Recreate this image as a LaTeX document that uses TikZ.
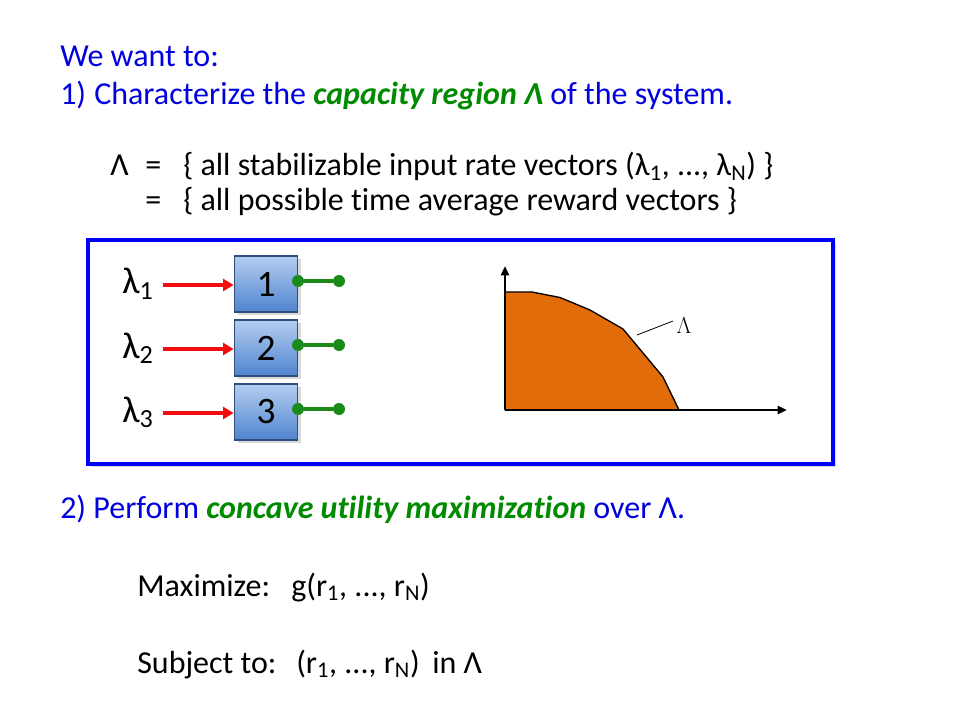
\documentclass[tikz,border=0pt]{standalone}
\usepackage{fontspec}
\setmainfont[Ligatures={NoCommon}]{Carlito}
\usetikzlibrary{arrows.meta}
\definecolor{txtblue}{HTML}{0000E0}
\definecolor{txtgreen}{HTML}{008A00}
\definecolor{boxblue}{HTML}{0000FF}
\definecolor{regorange}{HTML}{E36C0A}
\definecolor{qtop}{HTML}{B4CDF0}
\definecolor{qbot}{HTML}{4F84CF}
\definecolor{qedge}{HTML}{2F4F7F}
\definecolor{arrred}{HTML}{F01010}
\definecolor{lnkgreen}{HTML}{1A8A1A}
\tikzset{
  txt/.style={anchor=base west, inner sep=0pt, font=\fontsize{24}{28}\selectfont},
  lam/.style={anchor=base west, inner sep=0pt, font=\fontsize{28}{30}\selectfont},
  queue/.style={draw=qedge, line width=1pt, top color=qtop, bottom color=qbot, minimum width=47.5pt, minimum height=42pt, inner sep=0pt, font=\fontsize{28}{30}\selectfont},
  inarrow/.style={draw=arrred, line width=2.4pt, -{Triangle[length=8pt,width=9pt]}},
  outlink/.style={draw=lnkgreen, line width=3pt},
  dot/.style={circle, fill=lnkgreen, inner sep=0pt, minimum size=9pt},
  axis/.style={line width=1.8pt, -{Triangle[length=7pt,width=6pt]}}
}
\begin{document}
\begin{tikzpicture}[x=0.75pt,y=-0.75pt]
\useasboundingbox (0,0) rectangle (960,720);
% header text
\node[txt, text=txtblue] (want) at (60,67) {We want to:};
\node[txt, text=txtblue] (one) at (60,105) {1)};
\node[txt, text=txtblue] (char) at (94,105) {Characterize the \textcolor{txtgreen}{\bfseries\itshape capacity region Λ} of the system.};
\node[txt] (L) at (110,176) {Λ};
\node[txt] (eq1) at (145,176) {=};
\node[txt] (set1) at (183,176) {\{ all stabilizable input rate vectors (λ\textsubscript{1}, ..., λ\textsubscript{N}) \}};
\node[txt] (eq2) at (145,211) {=};
\node[txt] (set2) at (183,211) {\{ all possible time average reward vectors \}};
% frame
\fill[black!15] (91,243) rectangle (836,467);
\draw[boxblue, line width=3pt, fill=white] (88,240) rectangle (833,464);
% queues
\foreach \i/\y in {1/285,2/349,3/413}{
  \fill[black!15] (238,\y-26) rectangle (301,\y+30);
  \node[queue] (q\i) at (266,\y-1) {\i};
  \node[lam] (l\i) at (122,\y+9) {λ\textsubscript{\i}};
  \coordinate (s\i) at (163,\y);
  \draw[inarrow] (s\i) -- (q\i.west |- s\i);
  \node[dot] (d\i) at (298,\y-4) {};
  \node[dot] (e\i) at (339,\y-4) {};
  \draw[outlink] (d\i) -- (e\i);
}
% region
\coordinate (o) at (505,410);
\fill[regorange] (505,410) -- (505,292) -- (532,292) -- (560,297.5) -- (590,310) -- (623,329) -- (643,353) -- (663,377) -- (679,410) -- cycle;
\draw[line width=1pt] (505,292) -- (532,292) -- (560,297.5) -- (590,310) -- (623,329) -- (643,353) -- (663,377) -- (679,410);
\coordinate (ytip) at (505,266);
\coordinate (xtip) at (787,410);
\draw[axis] (o) -- (ytip);
\draw[axis] (o) -- (xtip);
\node[inner sep=0pt, font=\fontsize{17}{19}\selectfont\rmfamily] (lab) at (684,326) {$\Lambda$};
\coordinate (lp) at (637,335);
\draw[line width=0.6pt] (lp) -- (673,321);
% part 2
\node[txt, text=txtblue] (two) at (60,518) {2) Perform \textcolor{txtgreen}{\bfseries\itshape concave utility maximization} over Λ.};
\node[txt] (max) at (137,596) {Maximize:};
\node[txt] (g) at (291,596) {g(r\textsubscript{1}, ..., r\textsubscript{N})};
\node[txt] (sub) at (137,673) {Subject to:};
\node[txt] (r) at (296,673) {(r\textsubscript{1}, ..., r\textsubscript{N})};
\node[txt] (in) at (432,673) {in Λ};
\end{tikzpicture}
\end{document}
